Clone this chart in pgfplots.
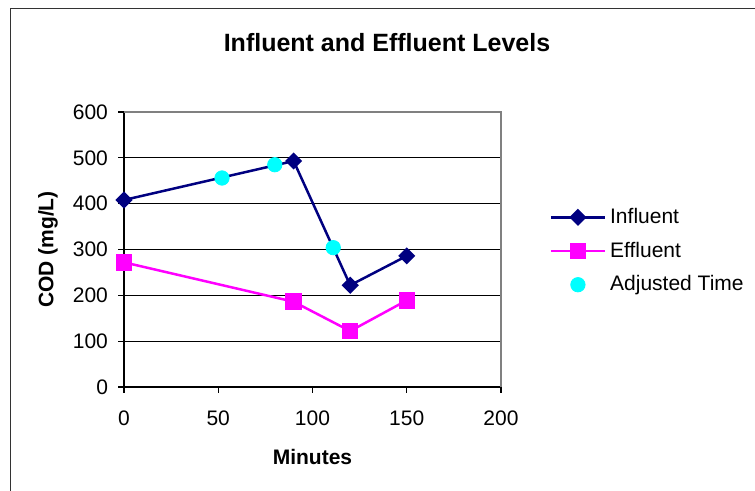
\documentclass[border=0pt]{standalone}
\usepackage{fontspec}
\setmainfont{Liberation Sans}
\usepackage{pgfplots}
\pgfplotsset{compat=1.18}
\definecolor{navyc}{HTML}{000080}
\definecolor{magc}{HTML}{FF00FF}
\definecolor{cyanc}{HTML}{00FFFF}
\definecolor{bordc}{HTML}{808080}
\begin{document}
\begin{tikzpicture}[x=1pt,y=1pt]
\useasboundingbox (0,0) rectangle (377.5,245.5);
\draw[color=black!80, line width=0.7pt] (5.25,0) -- (5.25,241.25) -- (377.5,241.25);
\node[font=\fontsize{12.5}{15}\selectfont\bfseries] at (193.5,224) {Influent and Effluent Levels};
\begin{axis}[
  at={(62pt,52pt)}, anchor=south west,
  scale only axis, width=188.5pt, height=137.5pt,
  xmin=0, xmax=200, ymin=0, ymax=600,
  enlargelimits=false, clip=false,
  axis x line*=bottom, axis y line*=left,
  axis line style={-, black, line width=0.6pt},
  xtick={0,50,100,150,200}, ytick={0,100,200,300,400,500,600},
  tick align=outside, major tick length=3pt,
  tick style={black, line width=0.6pt},
  ymajorgrids, grid style={black, line width=0.5pt},
  /pgf/number format/assume math mode=true,
  ticklabel style={font=\fontsize{10.5}{12}\selectfont},
  xticklabel style={yshift=-5.5pt},
  yticklabel style={xshift=-1.5pt},
  xlabel={Minutes}, ylabel={COD (mg/L)},
  label style={font=\fontsize{10.5}{12}\selectfont\bfseries},
  xlabel style={at={(axis description cs:0.5,-0.2545)}, anchor=center},
  ylabel style={at={(axis description cs:-0.2016,0.5)}, anchor=center},
  legend style={at={(axis description cs:1.128,0.4945)}, anchor=west, draw=none, fill=none,
    font=\fontsize{10.5}{12}\selectfont, inner sep=0pt, row sep=3.75pt,
    legend cell align=left},
  legend image code/.code={\draw[mark repeat=2,mark phase=2] plot coordinates {(0pt,0pt) (13.5pt,0pt) (27pt,0pt)};},
]
\draw[bordc, line width=1pt] (rel axis cs:0,1) -- (rel axis cs:1,1) -- (rel axis cs:1,0);
\addplot[navyc, line width=1.25pt, mark=square*, mark size=2.4pt, mark options={rotate=45, solid, fill=navyc}]
  coordinates {(0,408) (90,493) (120,222) (150,286)};
\addlegendentry{Influent}
\addplot[magc, line width=1.25pt, mark=square*, mark size=3.5pt, mark options={solid, fill=magc}]
  coordinates {(0,272) (90,186) (120,122) (150,189)};
\addlegendentry{Effluent}
\addplot[only marks, cyanc, mark=*, mark size=3.6pt, mark options={fill=cyanc, draw=cyanc},
  legend image code/.code={\draw[draw opacity=0] (0pt,0pt) -- (27pt,0pt); \draw[only marks] plot coordinates {(13.5pt,0pt)};}]
  coordinates {(52,456) (80,485) (111,304)};
\addlegendentry{Adjusted Time}
\end{axis}
\end{tikzpicture}
\end{document}
